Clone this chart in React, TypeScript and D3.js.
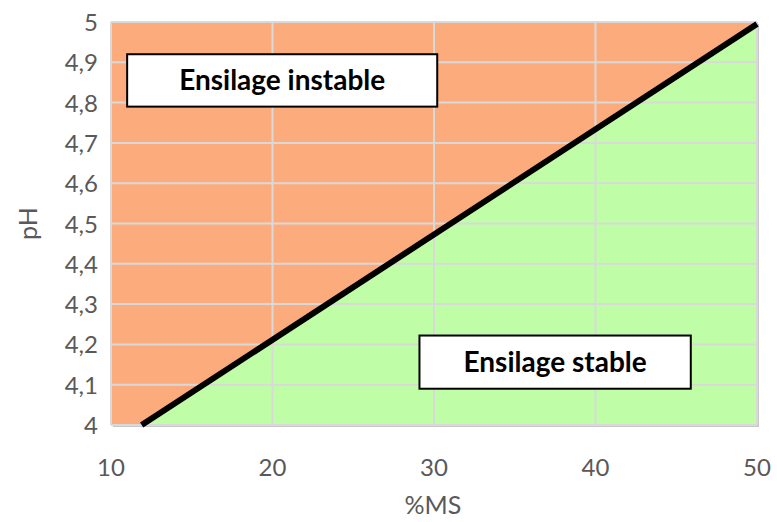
import React from "react";
import * as d3 from "d3";

const xTicks = [10, 20, 30, 40, 50];
const yTicks = [4, 4.1, 4.2, 4.3, 4.4, 4.5, 4.6, 4.7, 4.8, 4.9, 5];
const limitLine: [number, number][] = [
  [11.9, 4],
  [50, 4.995],
];
const zoneLabels = [
  { text: "Ensilage instable", x: 11.0, y: 4.92, x2: 30.2, y2: 4.79 },
  { text: "Ensilage stable", x: 29.1, y: 4.222, x2: 45.9, y2: 4.09 },
];

const W = 777;
const H = 522;
const L = 111, R = 757, T = 22, B = 425;

export default function App() {
  const x = d3.scaleLinear().domain([10, 50]).range([L, R]);
  const y = d3.scaleLinear().domain([4, 5]).range([B, T]);
  const line = d3.line<[number, number]>().x((d) => x(d[0])).y((d) => y(d[1]));
  const [p0, p1] = limitLine;
  const below = `M${x(p0[0])},${y(p0[1])}L${x(p1[0])},${y(p1[1])}L${x(50)},${y(4)}Z`;
  const font = "Lato, 'Open Sans', sans-serif";
  return (
    <svg width={W} height={H} style={{ position: "absolute", left: 0, top: 0 }}>
      <rect x={L + 2} y={T + 2} width={R - L} height={B - T} fill="#c8c8c8" />
      <rect x={L} y={T} width={R - L} height={B - T} fill="#FCAB7C" />
      <path d={below} fill="#BFFEA7" />
      {xTicks.map((t) => (
        <line key={"gx" + t} x1={x(t)} x2={x(t)} y1={T} y2={B} stroke="#d9d9d9" strokeWidth={2} />
      ))}
      {yTicks.map((t) => (
        <line key={"gy" + t} x1={L} x2={R} y1={y(t)} y2={y(t)} stroke="#d9d9d9" strokeWidth={2} />
      ))}
      <path d={line(limitLine) || ""} stroke="#000" strokeWidth={6} fill="none" />
      {zoneLabels.map((z) => (
        <g key={z.text}>
          <rect
            x={x(z.x)}
            y={y(z.y)}
            width={x(z.x2) - x(z.x)}
            height={y(z.y2) - y(z.y)}
            fill="#fff"
            stroke="#000"
            strokeWidth={2}
          />
          <text
            x={(x(z.x) + x(z.x2)) / 2}
            y={(y(z.y) + y(z.y2)) / 2 + 10}
            textAnchor="middle"
            fontFamily={font}
            fontWeight="bold"
            fontSize={28}
            fill="#000"
          >
            {z.text}
          </text>
        </g>
      ))}
      {yTicks.map((t) => (
        <text
          key={"ly" + t}
          x={98}
          y={y(t) + 9}
          textAnchor="end"
          fontFamily={font}
          fontSize={24}
          fill="#595959"
        >
          {d3.format(".1~f")(t).replace(".", ",")}
        </text>
      ))}
      {xTicks.map((t) => (
        <text
          key={"lx" + t}
          x={x(t)}
          y={476}
          textAnchor="middle"
          fontFamily={font}
          fontSize={24}
          fill="#595959"
        >
          {t}
        </text>
      ))}
      <text x={433} y={514} textAnchor="middle" fontFamily={font} fontSize={25} fill="#595959">
        %MS
      </text>
      <text
        transform={`translate(37,${(T + B) / 2}) rotate(-90)`}
        textAnchor="middle"
        fontFamily={font}
        fontSize={25}
        fill="#595959"
      >
        pH
      </text>
    </svg>
  );
}
